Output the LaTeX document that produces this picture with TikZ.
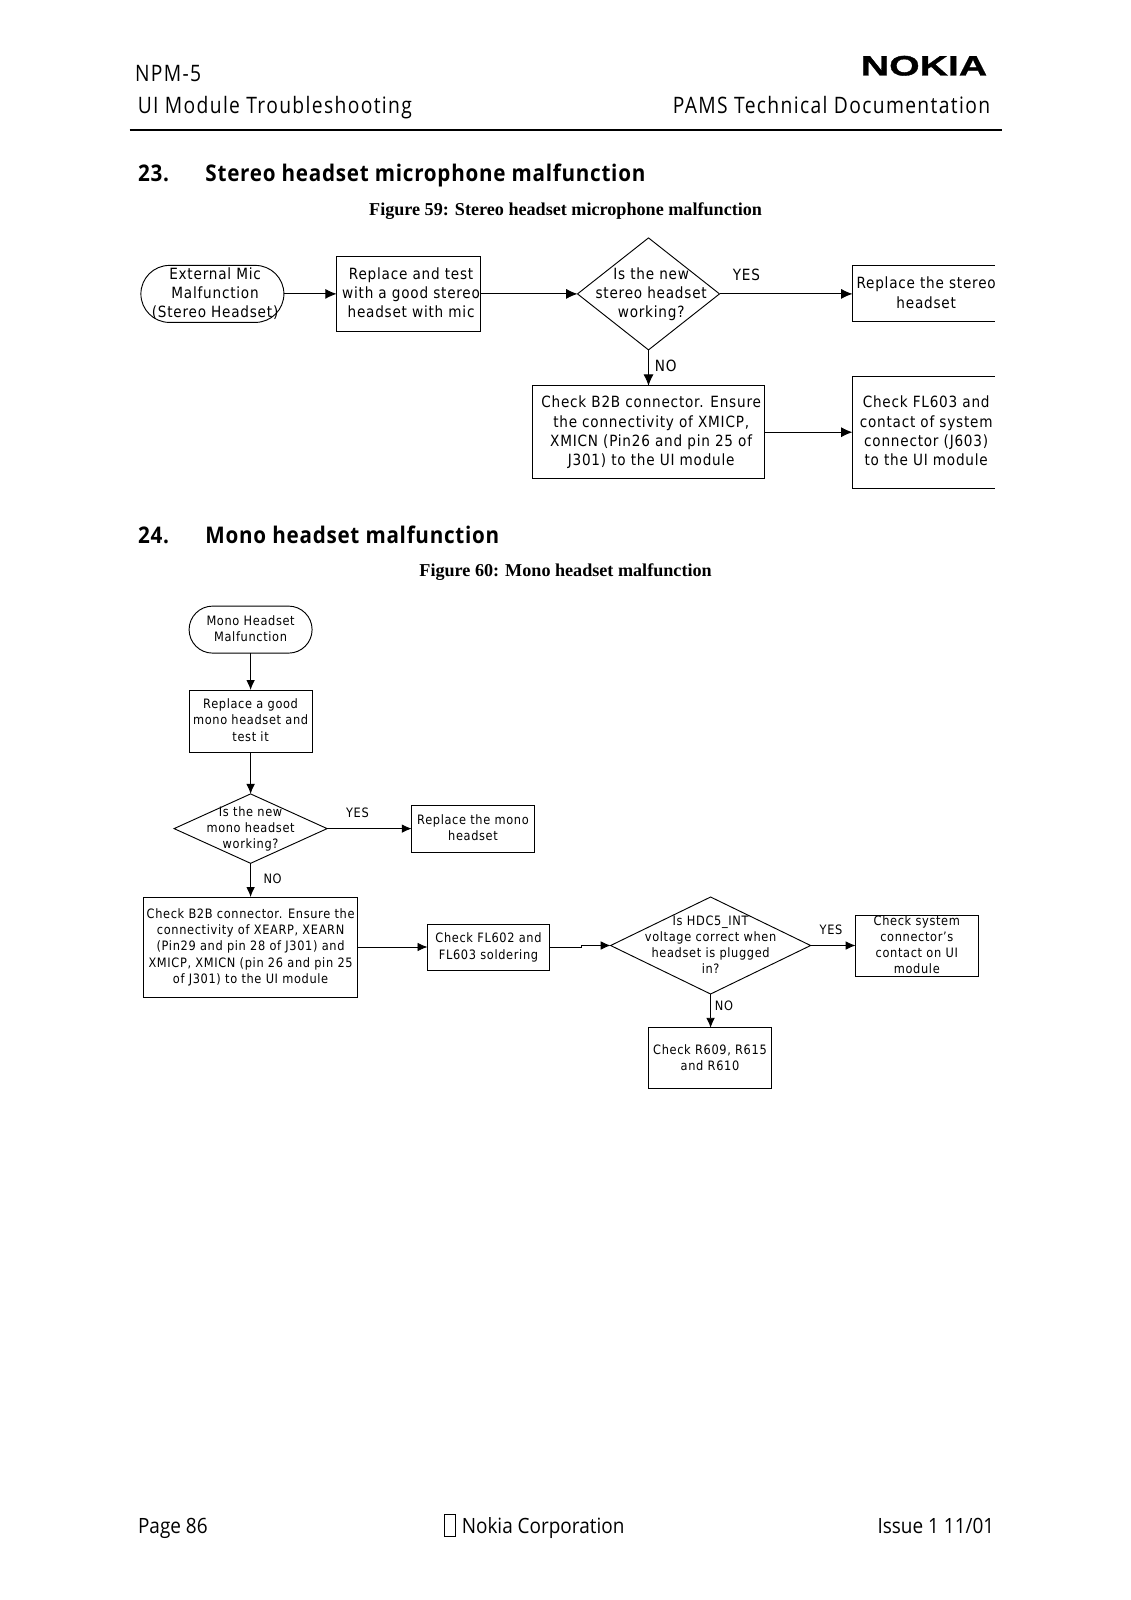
\documentclass[tikz,border=0pt]{standalone}
\usepackage{fontspec}
\usetikzlibrary{arrows.meta,shapes.geometric,shapes.misc}
\newfontfamily\diagfont[FakeStretch=0.88,LetterSpace=5]{DejaVu Sans}
\newfontfamily\headfont[FakeStretch=0.85,LetterSpace=6]{Open Sans}
\newfontfamily\sectfont[FakeStretch=0.9,LetterSpace=3.2]{Open Sans}
\newfontfamily\footfont[FakeStretch=0.9]{Open Sans}
\newfontfamily\capfont{Liberation Serif}
\newfontfamily\logofont[FakeStretch=1.4,FakeBold=1.2]{Liberation Sans Bold}
\def\tdrop{3pt}
\def\tshift{0pt}
\newcommand{\ctext}[1]{\smash{\makebox[0pt][c]{\kern\tshift\raisebox{-\tdrop}{\begin{tabular}{@{}c@{}}#1\end{tabular}}\kern-\tshift}}}
\tikzset{
  sz/.style 2 args={minimum width=#1*0.75pt,minimum height=#2*0.75pt,inner sep=0pt,outer sep=0pt},
  bigtext/.style={font=\diagfont\fontsize{11.6}{14.6}\selectfont\def\tdrop{3.5pt}\def\tshift{2pt}},
  smalltext/.style={font=\diagfont\fontsize{9.7}{12.2}\selectfont\def\tdrop{3pt}\def\tshift{0pt}},
  boxs/.style={draw,line width=0.7pt},
  termin/.style={draw,line width=0.7pt,rounded rectangle},
  dia/.style={draw,line width=0.7pt,diamond},
  arr/.style={line width=0.7pt,-{Latex[length=7.5pt,width=6.5pt]}},
  arrbig/.style={line width=0.7pt,-{Latex[length=8.5pt,width=7.5pt]}},
  openbox/.style={line width=0.7pt},
  headtext/.style={font=\headfont\fontsize{17}{20}\selectfont,inner sep=0pt},
  sect/.style={font=\sectfont\bfseries\fontsize{17.2}{20}\selectfont,anchor=base west,inner sep=0pt},
  figcap/.style={font=\capfont\bfseries\fontsize{13.6}{16}\selectfont,inner sep=0pt,anchor=base},
  foottext/.style={font=\footfont\fontsize{15.8}{19}\selectfont,inner sep=0pt},
  lab/.style={font=\diagfont\fontsize{11.6}{14}\selectfont,inner sep=0pt},
  labs/.style={font=\diagfont\fontsize{9.7}{12}\selectfont,inner sep=0pt},
}
\begin{document}
\begin{tikzpicture}[x=0.75pt,y=-0.75pt]
\path[use as bounding box,fill=white] (0,0) rectangle (1131,1600);
% header
\node[headtext,anchor=base west] (h1) at (134.8,81) {NPM-5};
\node[headtext,anchor=base west] (h2) at (137.5,113.3) {UI Module Troubleshooting};
\node[headtext,anchor=base east] (h3) at (990.4,113.3) {PAMS Technical Documentation};
\node[font=\logofont\fontsize{21}{24}\selectfont,inner sep=0pt] (logo) at (924,65.8) {NOKIA};
\coordinate (ruleL) at (129.7,129.6);
\coordinate (ruleR) at (1001.6,129.6);
\draw[line width=1.5pt] (ruleL) -- (ruleR);
% section 23
\node[sect] (s23n) at (137.8,181.5) {23.};
\node[sect] (s23) at (205.2,181.5) {Stereo headset microphone malfunction};
\node[figcap] (c59) at (565.6,215.3) {Figure 59: Stereo headset microphone malfunction};
\node[bigtext,termin,sz={143}{57}] (a1) at (212.4,293.9) {\ctext{External Mic\\Malfunction\\(Stereo Headset)}};
\node[bigtext,boxs,sz={143.5}{74.5}] (a2) at (408.4,293.9) {\ctext{Replace and test\\with a good stereo\\headset with mic}};
\node[bigtext,dia,sz={142}{112}] (a3) at (648.5,293.9) {\ctext{Is the new\\stereo headset\\working?}};
\node[bigtext,sz={142}{56}] (a4) at (923.5,293.9) {\ctext{Replace the stereo\\headset}};
\draw[openbox] (a4.north east) -- (a4.north west) -- (a4.south west) -- (a4.south east);
\node[bigtext,boxs,sz={232.7}{92.8}] (a5) at (648.5,432.2) {\ctext{Check B2B connector. Ensure\\the connectivity of XMICP,\\XMICN (Pin26 and pin 25 of\\J301) to the UI module}};
\node[bigtext,sz={142}{112.3}] (a6) at (923.5,432.2) {\ctext{Check FL603 and\\contact of system\\connector (J603)\\to the UI module}};
\draw[openbox] (a6.north east) -- (a6.north west) -- (a6.south west) -- (a6.south east);
\draw[arrbig] (a1.east) -- (a2.west);
\draw[arrbig] (a2.east) -- (a3.west);
\draw[arrbig] (a3.east) -- (a4.west);
\draw[arrbig] (a3.south) -- (a5.north);
\draw[arrbig] (a5.east) -- (a6.west);
\node[lab] (ay) at (746.4,274.5) {YES};
\node[lab] (an) at (665.7,366.3) {NO};
% section 24
\node[sect] (s24n) at (137.8,543) {24.};
\node[sect] (s24) at (205.2,543) {Mono headset malfunction};
\node[figcap] (c60) at (565.6,576.6) {Figure 60: Mono headset malfunction};
\node[smalltext,termin,sz={123}{47}] (b1) at (250.6,629.6) {\ctext{Mono Headset\\Malfunction}};
\node[smalltext,boxs,sz={123}{62}] (b2) at (250.6,721) {\ctext{Replace a good\\mono headset and\\test it}};
\node[smalltext,dia,sz={153}{69.4}] (b3) at (250.6,828.6) {\ctext{Is the new\\mono headset\\working?}};
\node[smalltext,boxs,sz={122.5}{47}] (b4) at (473,828.6) {\ctext{Replace the mono\\headset}};
\node[smalltext,boxs,sz={214.4}{100}] (b5) at (250.6,947) {\ctext{Check B2B connector. Ensure the\\connectivity of XEARP, XEARN\\(Pin29 and pin 28 of J301) and\\XMICP, XMICN (pin 26 and pin 25\\of J301) to the UI module}};
\node[smalltext,boxs,sz={122}{46}] (b6) at (488.5,947) {\ctext{Check FL602 and\\FL603 soldering}};
\node[smalltext,dia,sz={200}{97}] (b7) at (710.6,945.5) {\ctext{Is HDC5\_INT\\voltage correct when\\headset is plugged\\in?}};
\node[smalltext,boxs,sz={122.5}{61}] (b8) at (916.8,945.5) {\ctext{Check system\\connector’s\\contact on UI\\module}};
\node[smalltext,boxs,sz={123}{61}] (b9) at (710,1058.3) {\ctext{Check R609, R615\\and R610}};
\coordinate (jog) at (581,947);
\draw[arr] (b1.south) -- (b2.north);
\draw[arr] (b2.south) -- (b3.north);
\draw[arr] (b3.east) -- (b4.west);
\draw[arr] (b3.south) -- (b5.north);
\draw[arr] (b5.east) -- (b6.west);
\draw[arr] (b6.east) -- (jog) -- (jog |- b7.west) -- (b7.west);
\draw[arr] (b7.east) -- (b8.west);
\draw[arr] (b7.south) -- (b7.south |- b9.north);
\node[labs] (by) at (357.4,812.3) {YES};
\node[labs] (bn) at (272.6,878.7) {NO};
\node[labs] (cy) at (831,929.6) {YES};
\node[labs] (cn) at (724,1006) {NO};
% footer
\node[foottext,anchor=base west] (f1) at (137.8,1533.8) {Page 86};
\node[draw,line width=0.6pt,minimum width=8pt,minimum height=16pt,inner sep=0pt] (f2) at (449.6,1525.5) {};
\node[foottext,anchor=base west] (f3) at (461.5,1533.8) {Nokia Corporation};
\node[foottext,anchor=base east] (f4) at (994.5,1533.8) {Issue 1 11/01};
\end{tikzpicture}
\end{document}
